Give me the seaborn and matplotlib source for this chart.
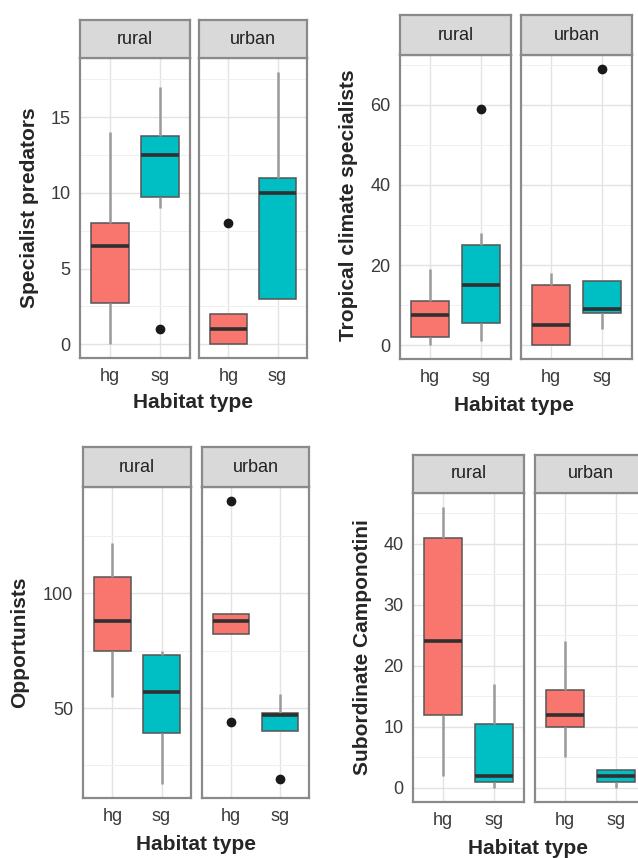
import matplotlib
matplotlib.use("Agg")
import matplotlib.pyplot as plt
import seaborn as sns
import pandas as pd
from matplotlib.ticker import MultipleLocator

# --- Data: site counts ---
habitats = ["hg", "sg"]
settings = ["rural", "urban"]
colors = ["#F8766D", "#00BFC4"]

# Specialist predators
pred_rural_hg = [0, 2, 5, 8, 8, 14]
pred_rural_sg = [1, 9, 10, 12, 13, 13, 16, 17]
pred_urban_hg = [0, 0, 0, 1, 1, 2, 2, 8]
pred_urban_sg = [3, 3, 10, 11, 18]

# Tropical climate specialists
trop_rural_hg = [0, 2, 2, 7, 8, 11, 11, 19]
trop_rural_sg = [1, 4, 6, 14, 16, 24, 28, 59]
trop_urban_hg = [0, 0, 0, 4, 6, 15, 15, 18]
trop_urban_sg = [4, 8, 8, 9, 9, 16, 16, 69]

# Opportunists
opp_rural_hg = [55, 75, 75, 86, 90, 107, 107, 122]
opp_rural_sg = [17, 39, 39, 55, 59, 73, 73, 75]
opp_urban_hg = [44, 82, 82, 87, 89, 91, 91, 140]
opp_urban_sg = [19, 40, 40, 46, 48, 48, 48, 56]

# Subordinate Camponotini
sub_rural_hg = [2, 12, 12, 23, 25, 41, 41, 46]
sub_rural_sg = [0, 1, 1, 2, 2, 10, 12, 17]
sub_urban_hg = [5, 10, 10, 12, 12, 16, 16, 24]
sub_urban_sg = [0, 1, 1, 2, 2, 3, 3, 3]

# --- Style ---
sns.set_theme(style="white")
plt.rcParams['font.family'] = ['Liberation Sans', 'DejaVu Sans']

W, H = 638, 858
fig = plt.figure(figsize=(W / 100, H / 100), dpi=100)
fig.patch.set_facecolor("white")

BORDER = "#8A8A8A"
TICK_COL = "#3A3A3A"


def make_df(rh, rs, uh, us):
    rows = []
    for setting, hab, vals in [("rural", "hg", rh), ("rural", "sg", rs),
                               ("urban", "hg", uh), ("urban", "sg", us)]:
        for v in vals:
            rows.append((setting, hab, v))
    return pd.DataFrame(rows, columns=["setting", "habitat", "value"])


def px_axes(x0, x1, y0, y1):
    return fig.add_axes([x0 / W, 1 - y1 / H, (x1 - x0) / W, (y1 - y0) / H])


def draw_panel(df, ylabel, step, xs, strip_top, top, bottom, ylab_xy, xlab_xy):
    lo, hi = df["value"].min(), df["value"].max()
    pad = 0.05 * (hi - lo)
    for i, setting in enumerate(settings):
        x0, x1 = xs[i]
        ax = px_axes(x0, x1, top, bottom)
        sub = df[df["setting"] == setting]
        sns.boxplot(data=sub, x="habitat", y="value", hue="habitat",
                    order=habitats, hue_order=habitats,
                    palette=colors, saturation=1, width=0.75,
                    linewidth=1.1, linecolor="#555555", legend=False,
                    whiskerprops={"color": "#9A9A9A", "linewidth": 1.8},
                    capprops={"visible": False},
                    medianprops={"color": "#303030", "linewidth": 2.6},
                    flierprops={"marker": "o", "markersize": 6,
                                "markerfacecolor": "#1a1a1a",
                                "markeredgecolor": "#1a1a1a"},
                    ax=ax)
        ax.set_xlim(-0.6, 1.6)
        ax.set_ylim(lo - pad, hi + pad)
        ax.yaxis.set_major_locator(MultipleLocator(step))
        ax.yaxis.set_minor_locator(MultipleLocator(step / 2))
        ax.set_axisbelow(True)
        ax.grid(which="major", color="#E3E3E3", linewidth=1.0)
        ax.grid(which="minor", axis="y", color="#F0F0F0", linewidth=0.7)
        ax.set_xlabel("")
        ax.set_ylabel("")
        for sp in ax.spines.values():
            sp.set_color(BORDER)
            sp.set_linewidth(1.6)
        ax.tick_params(axis="both", which="major", length=4, width=1.2,
                       color=BORDER, labelcolor=TICK_COL, labelsize=13, pad=3)
        ax.tick_params(axis="y", which="minor", length=0)
        if i == 1:
            ax.tick_params(axis="y", left=False, labelleft=False)
        # facet strip
        sax = px_axes(x0, x1, strip_top, top)
        sax.set_facecolor("#D9D9D9")
        sax.set_xticks([])
        sax.set_yticks([])
        for sp in sax.spines.values():
            sp.set_color(BORDER)
            sp.set_linewidth(1.6)
        sax.text(0.5, 0.5, setting, ha="center", va="center",
                 fontsize=13, color="#222222", transform=sax.transAxes)
    fig.text(ylab_xy[0] / W, 1 - ylab_xy[1] / H, ylabel, rotation=90,
             ha="center", va="center", fontsize=15, fontweight="bold")
    fig.text(xlab_xy[0] / W, 1 - xlab_xy[1] / H, "Habitat type",
             ha="center", va="center", fontsize=15, fontweight="bold")


draw_panel(make_df(pred_rural_hg, pred_rural_sg, pred_urban_hg, pred_urban_sg),
           "Specialist predators", 5, [(80, 190), (199, 307)], 20, 58, 358,
           (30, 208), (193, 403))
draw_panel(make_df(trop_rural_hg, trop_rural_sg, trop_urban_hg, trop_urban_sg),
           "Tropical climate specialists", 20, [(400, 511), (521, 632)], 15, 55, 359,
           (348, 205), (514, 405))
draw_panel(make_df(opp_rural_hg, opp_rural_sg, opp_urban_hg, opp_urban_sg),
           "Opportunists", 50, [(83, 191), (202, 309)], 447, 487, 798,
           (20, 642), (196, 845))
draw_panel(make_df(sub_rural_hg, sub_rural_sg, sub_urban_hg, sub_urban_sg),
           "Subordinate Camponotini", 10, [(413, 524), (535, 646)], 455, 493, 802,
           (362, 647), (528, 848))

fig.savefig("out.png", dpi=100)
